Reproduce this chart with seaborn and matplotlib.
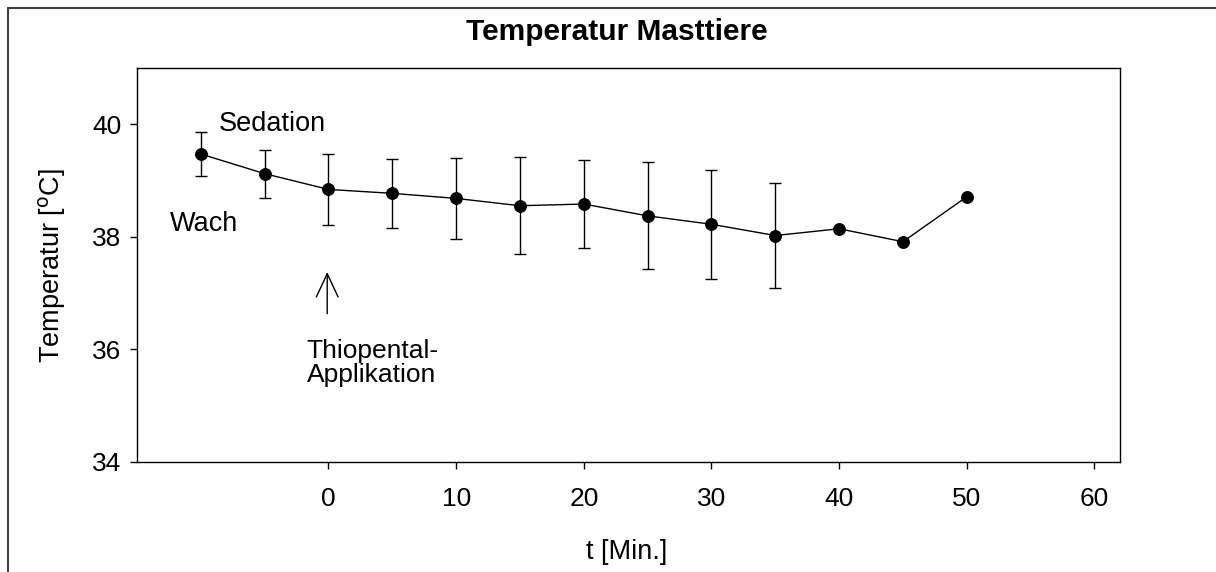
import numpy as np
import pandas as pd
import matplotlib
matplotlib.use("Agg")
import matplotlib.pyplot as plt
from matplotlib.lines import Line2D
import seaborn as sns

# Data
time_min = [-10, -5, 0, 5, 10, 15, 20, 25, 30, 35, 40, 45, 50]
temp_mean = [39.47, 39.12, 38.84, 38.77, 38.68, 38.55, 38.58, 38.37, 38.22, 38.02, 38.14, 37.91, 38.71]
temp_sd = [0.39, 0.43, 0.63, 0.62, 0.72, 0.86, 0.79, 0.95, 0.97, 0.94, np.nan, np.nan, np.nan]
x_ticks = [0, 10, 20, 30, 40, 50, 60]
y_ticks = [34, 36, 38, 40]

df = pd.DataFrame({"t": time_min, "temp": temp_mean, "sd": temp_sd})

sns.set_theme(style="white")
plt.rcParams["font.family"] = ["Liberation Sans", "DejaVu Sans"]
plt.rcParams["text.color"] = "black"
plt.rcParams["axes.labelcolor"] = "black"
plt.rcParams["xtick.color"] = "black"
plt.rcParams["ytick.color"] = "black"

W, H = 1216, 572
fig = plt.figure(figsize=(W / 100, H / 100), dpi=100)
ax = fig.add_axes([137 / W, 1 - 461.5 / H, (1120 - 137) / W, (461.5 - 68) / H])

# error bars
ax.errorbar(df["t"], df["temp"], yerr=df["sd"], fmt="none", ecolor="black",
            elinewidth=1.0, capsize=4.5, capthick=1.0, zorder=2)
sns.lineplot(data=df, x="t", y="temp", ax=ax, color="black", linewidth=1.0,
             marker="o", markersize=8.5, markeredgecolor="black",
             markerfacecolor="black", zorder=3, errorbar=None)

ax.set_xlim(-15, 62)
ax.set_ylim(34, 41)
ax.set_xticks(x_ticks)
ax.set_yticks(y_ticks)
ax.tick_params(axis="both", which="both", direction="out", length=5, width=1,
               color="black", labelcolor="black", labelsize=19, left=True,
               bottom=True, pad=13)
ax.tick_params(axis="y", pad=6)
for s in ax.spines.values():
    s.set_color("black")
    s.set_linewidth(1.0)
ax.set_xlabel("")
ax.set_ylabel("")

# labels
fig.text(617 / W, 1 - 32 / H, "Temperatur Masttiere", ha="center", va="center",
         fontsize=21.5, fontweight="bold", color="black")
fig.text(627 / W, 1 - 552 / H, "t [Min.]", ha="center", va="center", fontsize=19.5,
         color="black")
fig.text(52 / W, 1 - 266 / H, "Temperatur [$^{\\mathrm{o}}$C]", ha="center", va="center",
         fontsize=19.5, rotation=90, color="black")

# annotations
ax.text(-8.6, 40.0, "Sedation", ha="left", va="center", fontsize=19.5, color="black")
ax.text(-12.4, 38.23, "Wach", ha="left", va="center", fontsize=19.5, color="black")
ax.annotate("", xy=(-0.1, 37.42), xytext=(-0.1, 36.58),
            arrowprops=dict(arrowstyle="->,head_length=0.6,head_width=0.28",
                            color="black", lw=1.0, mutation_scale=28))
ax.text(-1.7, 35.76, "Thiopental-\nApplikation", ha="left", va="center",
        fontsize=19, linespacing=1.0, color="black")

# outer frame lines (left and top)
fig.add_artist(Line2D([7.5 / W, 7.5 / W], [0, 1 - 7.5 / H], transform=fig.transFigure,
                      color="#404040", linewidth=1.5))
fig.add_artist(Line2D([7.5 / W, 1], [1 - 7.5 / H, 1 - 7.5 / H], transform=fig.transFigure,
                      color="#404040", linewidth=1.5))

fig.savefig("out.png", dpi=100, facecolor="white")
